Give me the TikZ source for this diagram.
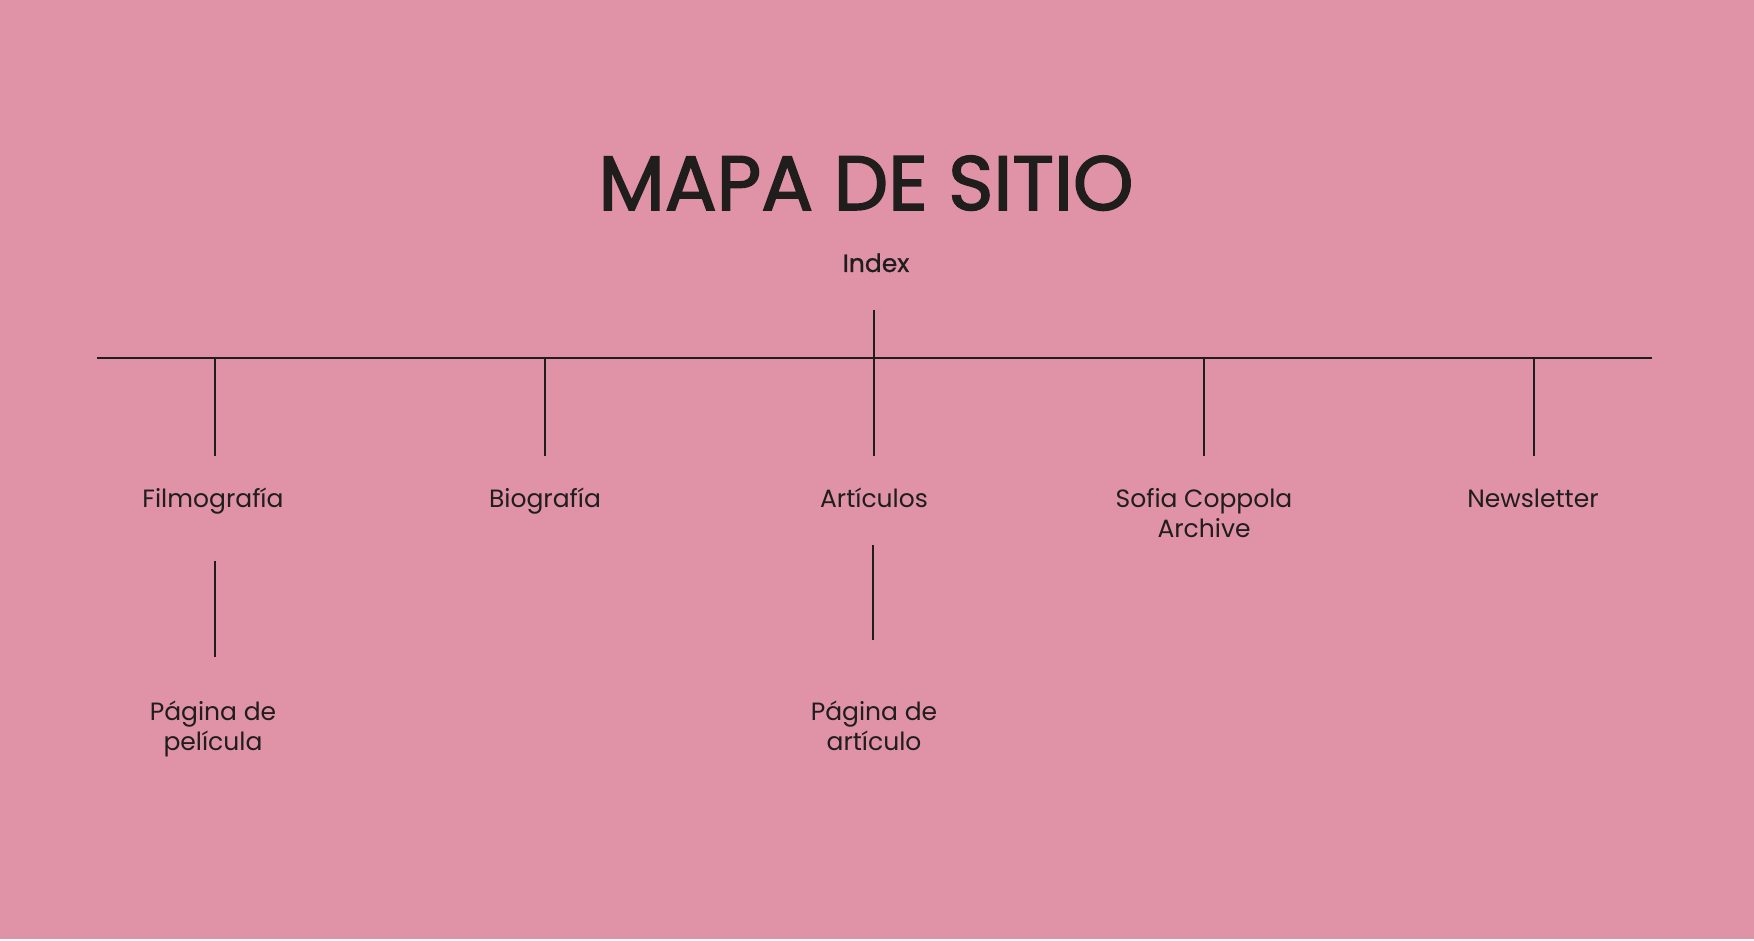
\documentclass[tikz,border=0pt]{standalone}
\usepackage{fontspec}
\setmainfont{Poppins}
\newfontfamily\titlefont{Poppins}[FakeBold=2]
\newfontfamily\idxfont{Poppins}[FakeBold=0.8]
\definecolor{bgpink}{HTML}{E092A7}
\definecolor{ink}{HTML}{1F1E1C}
\tikzset{
  conn/.style={draw=ink, line width=2.2pt},
  lab/.style={text=ink, font=\fontsize{25}{30}\selectfont, align=center, inner sep=0pt, anchor=base},
  ttl/.style={text=ink, font=\titlefont\fontsize{77}{90}\selectfont, inner sep=0pt, anchor=base},
  idx/.style={text=ink, font=\idxfont\fontsize{25}{30}\selectfont, inner sep=0pt, anchor=base}
}
\begin{document}
\begin{tikzpicture}[x=1pt,y=-1pt]
\fill[bgpink] (0,0) rectangle (1754,941);
\fill[white] (0,939) rectangle (1754,941);
\useasboundingbox (0,0) rectangle (1754,941);

\node[ttl] (title) at (866,210) {MAPA DE SITIO};
\node[idx] (index) at (876,272) {Index};

\coordinate (itop) at (874,310);
\coordinate (hub) at (874,358);
\coordinate (left) at (97,358);
\coordinate (right) at (1652,358);
\draw[conn] (left) -- (right);
\draw[conn] (itop) -- (hub);

% level 1
\coordinate (t1) at (215,358); \coordinate (b1) at (215,456);
\coordinate (t2) at (545,358); \coordinate (b2) at (545,456);
\coordinate (t3) at (874,358); \coordinate (b3) at (874,456);
\coordinate (t4) at (1204,358); \coordinate (b4) at (1204,456);
\coordinate (t5) at (1534,358); \coordinate (b5) at (1534,456);
\foreach \i in {1,...,5} { \draw[conn] (t\i) -- (b\i); }

\node[lab] (film) at (213,507) {Filmografía};
\node[lab] (bio) at (545,507) {Biografía};
\node[lab] (art) at (874,507) {Artículos};
\node[lab] (sofia) at (1204,537) {Sofia Coppola\\Archive};
\node[lab] (news) at (1533,507) {Newsletter};

% level 2
\coordinate (f1) at (215,561); \coordinate (f2) at (215,657);
\coordinate (a1) at (873,545); \coordinate (a2) at (873,640);
\draw[conn] (f1) -- (f2);
\draw[conn] (a1) -- (a2);

\node[lab] (pelicula) at (213,750) {Página de\\película};
\node[lab] (articulo) at (874,750) {Página de\\artículo};
\end{tikzpicture}
\end{document}
